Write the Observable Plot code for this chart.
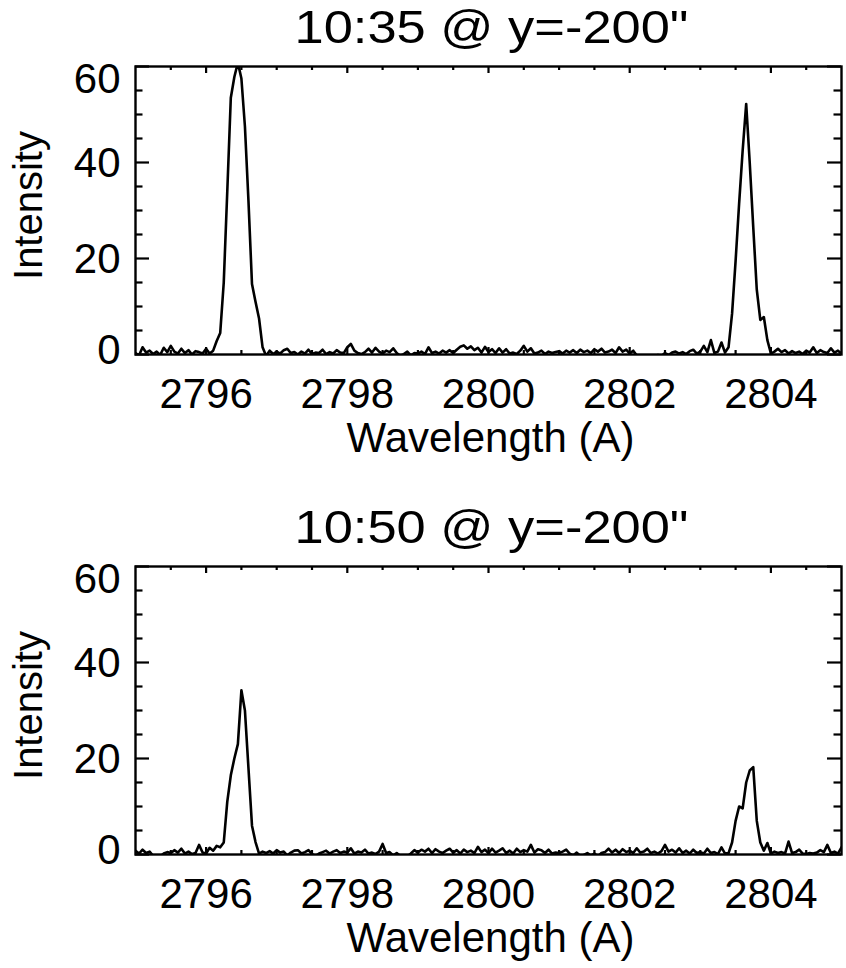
<!DOCTYPE html>
<html>
<head>
<meta charset="utf-8">
<script src="https://cdn.jsdelivr.net/npm/d3@7"></script>
<script src="https://cdn.jsdelivr.net/npm/@observablehq/plot@0.6"></script>
<style>
  html, body { margin: 0; padding: 0; background: #fff; }
  #chart svg { display: block; }
</style>
</head>
<body>
<div id="chart"></div>
<script>
// ---- Data ----
const titles = ["10:35 @ y=-200\"", "10:50 @ y=-200\""];
const xLabel = "Wavelength (A)";
const yLabel = "Intensity";
const xDomain = [2795, 2805];
const yDomain = [0, 60];
const xTickLabels = [2796, 2798, 2800, 2802, 2804];
const yTickLabels = [0, 20, 40, 60];
const xMinorTicks = [2795.5, 2796.5, 2797.0, 2797.5, 2798.5, 2799.0, 2799.5, 2800.5, 2801.0, 2801.5, 2802.5, 2803.0, 2803.5, 2804.5];
const yMinorTicks = [5, 10, 15, 25, 30, 35, 45, 50, 55];

const wavelength = [
  2795.00, 2795.05, 2795.10, 2795.15, 2795.20, 2795.25, 2795.30, 2795.35, 2795.40, 2795.45,
  2795.50, 2795.55, 2795.60, 2795.65, 2795.70, 2795.75, 2795.80, 2795.85, 2795.90, 2795.95,
  2796.00, 2796.05, 2796.10, 2796.15, 2796.20, 2796.25, 2796.30, 2796.35, 2796.40, 2796.45,
  2796.50, 2796.55, 2796.60, 2796.65, 2796.70, 2796.75, 2796.80, 2796.85, 2796.90, 2796.95,
  2797.00, 2797.05, 2797.10, 2797.15, 2797.20, 2797.25, 2797.30, 2797.35, 2797.40, 2797.45,
  2797.50, 2797.55, 2797.60, 2797.65, 2797.70, 2797.75, 2797.80, 2797.85, 2797.90, 2797.95,
  2798.00, 2798.05, 2798.10, 2798.15, 2798.20, 2798.25, 2798.30, 2798.35, 2798.40, 2798.45,
  2798.50, 2798.55, 2798.60, 2798.65, 2798.70, 2798.75, 2798.80, 2798.85, 2798.90, 2798.95,
  2799.00, 2799.05, 2799.10, 2799.15, 2799.20, 2799.25, 2799.30, 2799.35, 2799.40, 2799.45,
  2799.50, 2799.55, 2799.60, 2799.65, 2799.70, 2799.75, 2799.80, 2799.85, 2799.90, 2799.95,
  2800.00, 2800.05, 2800.10, 2800.15, 2800.20, 2800.25, 2800.30, 2800.35, 2800.40, 2800.45,
  2800.50, 2800.55, 2800.60, 2800.65, 2800.70, 2800.75, 2800.80, 2800.85, 2800.90, 2800.95,
  2801.00, 2801.05, 2801.10, 2801.15, 2801.20, 2801.25, 2801.30, 2801.35, 2801.40, 2801.45,
  2801.50, 2801.55, 2801.60, 2801.65, 2801.70, 2801.75, 2801.80, 2801.85, 2801.90, 2801.95,
  2802.00, 2802.05, 2802.10, 2802.15, 2802.20, 2802.25, 2802.30, 2802.35, 2802.40, 2802.45,
  2802.50, 2802.55, 2802.60, 2802.65, 2802.70, 2802.75, 2802.80, 2802.85, 2802.90, 2802.95,
  2803.00, 2803.05, 2803.10, 2803.15, 2803.20, 2803.25, 2803.30, 2803.35, 2803.40, 2803.45,
  2803.50, 2803.55, 2803.60, 2803.65, 2803.70, 2803.75, 2803.80, 2803.85, 2803.90, 2803.95,
  2804.00, 2804.05, 2804.10, 2804.15, 2804.20, 2804.25, 2804.30, 2804.35, 2804.40, 2804.45,
  2804.50, 2804.55, 2804.60, 2804.65, 2804.70, 2804.75, 2804.80, 2804.85, 2804.90, 2804.95,
  2805.00
];

const intensity1035 = [
  0.3, -0.2, 1.5, 0.4, 0.8, 0.1, 0.6, -0.1, 1.4, 0.5,
  1.8, 0.6, 0.2, 1.2, 0.3, 0.9, 0.0, 0.7, 0.5, 0.2,
  1.2, 0.2, 0.8, 2.8, 4.5, 15, 34, 53.5, 57.8, 60.8,
  57.5, 47.5, 32, 14.7, 11, 7.5, 1.5, -0.3, 0.8, 0.1,
  0.6, 0.2, 0.9, 1.2, 0.3, 0.5, 0.0, 0.6, 0.2, 1.0,
  0.1, 0.4, 0.3, 1.0, 0.1, 0.5, 0.2, 0.9, 0.4, 0.3,
  1.5, 2.2, 0.8, 0.3, 0.1, 0.5, 1.2, 0.4, 1.4, 0.6,
  0.2, 0.8, 0.5, 1.3, 0.3, -0.3, 0.1, 0.6, -0.2, 0.3,
  0.2, 0.6, 0.1, 1.5, 0.3, 0.6, 0.2, 0.8, 0.4, 0.9,
  0.3, 1.0, 1.6, 1.9, 1.2, 1.7, 0.9, 1.4, 0.4, 1.6,
  0.5, 1.1, 0.3, 1.3, 0.4, 1.1, 0.2, 0.4, 0.1, 0.8,
  1.8, 0.6, 1.3, 0.2, 0.4, 0.8, 0.1, 0.6, 0.3, 0.5,
  0.7, 0.2, 0.8, 0.4, 0.9, 0.3, 1.0, 0.5, 0.8, 0.3,
  1.1, 0.6, 1.2, 0.4, 0.6, 1.0, 0.3, 1.5, 0.6, 1.0,
  0.2, 0.8, -0.2, -0.4, -0.3, -0.5, -0.2, -0.4, -0.1, -0.3,
  0.3, -0.1, 0.4, 0.6, 0.2, 0.5, 0.1, 0.7, 1.0, 0.2,
  0.6, 1.8, 0.5, 3.0, 0.3, 0.6, 2.5, 0.4, 1.5, 8.5,
  19.5, 31.5, 42.5, 52.2, 40, 26.5, 13.5, 7.2, 7.8, 3.0,
  0.2, 0.6, 1.2, 0.5, 0.9, 0.2, 0.7, 0.3, 0.6, 0.1,
  0.8, 0.4, 1.5, 0.3, 0.9, 0.5, 0.3, 1.3, 0.4, 0.8,
  0.2
];

const intensity1050 = [
  0.8, 0.2, 1.0, 0.3, 0.6, -0.3, -0.2, -0.4, 0.2, 0.5,
  0.3, 0.9, 0.4, 1.2, 0.2, 0.6, 0.1, 0.3, 2.0, 0.4,
  0.2, 1.4, 0.8, 1.8, 1.5, 2.5, 11, 16.5, 20, 23,
  34.2, 30, 18, 6, 2.6, 0.2, 0.6, 0.3, 0.7, 0.2,
  0.9, 0.4, 0.6, -0.2, 0.4, 0.8, 0.9, 0.2, 0.5, 0.9,
  0.1, -0.3, 0.2, 0.5, 0.8, 0.2, 0.6, 0.9, 0.3, 0.6,
  0.4, 1.3, 0.2, 0.6, 0.4, 1.0, 0.2, 0.4, 0.1, 0.6,
  2.2, 0.3, 0.5, -0.2, 0.3, -0.3, -0.2, -0.4, 0.2, 0.9,
  0.4, 1.0, 0.6, 1.2, 0.3, 1.1, 0.6, 0.3, 0.8, 1.2,
  0.4, 0.9, 0.2, 1.0, 0.5, 0.8, 0.3, 1.6, 0.5, 1.0,
  0.3, 1.2, 0.4, 0.8, 1.3, 0.3, 0.8, 0.2, 1.2, 0.5,
  0.9, 0.6, 2.0, 0.4, 1.1, 0.9, 0.3, 1.0, 0.2, 0.4,
  0.3, 0.6, 1.0, 0.2, -0.2, 0.4, -0.3, -0.1, 0.3, -0.2,
  0.2, -0.4, 0.3, 0.5, 1.2, 0.4, 1.0, 0.3, 1.1, 0.5,
  0.8, 0.3, 1.3, 0.4, 0.6, 1.2, 0.3, 0.6, 0.2, 0.7,
  2.0, 0.6, 1.0, 0.4, 1.3, 0.3, 0.8, 0.2, 1.0, 0.3,
  0.5, 0.2, 1.2, 0.3, 0.5, 0.1, 1.5, 0.2, 0.3, 2.5,
  7, 10, 9.6, 15, 17.5, 18.2, 7, 2.5, 0.8, 2.4,
  0.2, 0.6, 0.3, 0.5, 0.2, 2.7, 0.3, 0.5, 1.0, 0.2,
  0.1, 0.3, 0.2, 0.4, 0.9, 0.5, 2.0, 0.3, 0.6, 0.2,
  1.5
];

// ---- Drawing ----
const FONT = "'Liberation Sans', Arial, Helvetica, sans-serif";

function panel(title, values, height, marginBottom) {
  const W = 846, mL = 135, mR = 5, mT = 66;
  const fh = height - mT - marginBottom;
  const fw = W - mL - mR;
  const rows = wavelength.map((w, i) => ({wavelength: w, intensity: values[i]}));
  const black = "#000";
  const yAxisOpts = {anchor: "left", tickSize: 0, tickPadding: 15, label: null, fontSize: 42, tickFormat: d3.format("d")};
  const svg = Plot.plot({
    width: W, height,
    marginLeft: mL, marginRight: mR, marginTop: mT, marginBottom,
    style: {fontFamily: FONT, fontSize: "42px", background: "#fff", color: "#000", overflow: "visible"},
    x: {domain: xDomain},
    y: {domain: yDomain},
    marks: [
      Plot.line(rows, {x: "wavelength", y: "intensity", stroke: black, strokeWidth: 2.6, strokeLinejoin: "round", clip: true}),
      // inward ticks, IDL style, on all four sides
      Plot.tickX(xTickLabels, {stroke: black, strokeWidth: 2.2, insetTop: fh - 7}),
      Plot.tickX(xTickLabels, {stroke: black, strokeWidth: 2.2, insetBottom: fh - 7}),
      Plot.tickX(xMinorTicks, {stroke: black, strokeWidth: 2.2, insetTop: fh - 4}),
      Plot.tickX(xMinorTicks, {stroke: black, strokeWidth: 2.2, insetBottom: fh - 4}),
      Plot.tickY(yTickLabels, {stroke: black, strokeWidth: 2.2, insetRight: fw - 14}),
      Plot.tickY(yTickLabels, {stroke: black, strokeWidth: 2.2, insetLeft: fw - 14}),
      Plot.tickY(yMinorTicks, {stroke: black, strokeWidth: 2.2, insetRight: fw - 7.5}),
      Plot.tickY(yMinorTicks, {stroke: black, strokeWidth: 2.2, insetLeft: fw - 7.5}),
      Plot.frame({stroke: black, strokeWidth: 2.4}),
      Plot.axisX(xTickLabels, {anchor: "bottom", tickSize: 0, tickPadding: 24, label: null, fontSize: 42, tickFormat: d3.format("d")}),
      // IDL nudges the end labels so they stay inside the axis extent
      Plot.axisY(yTickLabels.filter(v => v === yDomain[0]), {...yAxisOpts, dy: -4}),
      Plot.axisY(yTickLabels.filter(v => v > yDomain[0] && v < yDomain[1]), {...yAxisOpts, dy: 1}),
      Plot.axisY(yTickLabels.filter(v => v === yDomain[1]), {...yAxisOpts, dy: 13}),
      Plot.text([title], {text: d => d, frameAnchor: "top", dx: 3, dy: -24, lineAnchor: "bottom", textAnchor: "middle", fontSize: 47, fill: black}),
      Plot.text([xLabel], {text: d => d, frameAnchor: "bottom", dx: 2, dy: 97, lineAnchor: "bottom", textAnchor: "middle", fontSize: 42, fill: black}),
      Plot.text([yLabel], {text: d => d, frameAnchor: "left", dx: -106, dy: -5, rotate: -90, lineAnchor: "middle", textAnchor: "middle", fontSize: 40, fill: black})
    ]
  });
  // IDL's title font is a little wider than Liberation Sans: stretch to match
  d3.select(svg).selectAll("text").filter(function () { return this.textContent === title; })
    .attr("textLength", 394).attr("lengthAdjust", "spacingAndGlyphs");
  return svg;
}

const root = document.getElementById("chart");
root.appendChild(panel(titles[0], intensity1035, 500, 146));
root.appendChild(panel(titles[1], intensity1050, 468, 114));
</script>
</body>
</html>
